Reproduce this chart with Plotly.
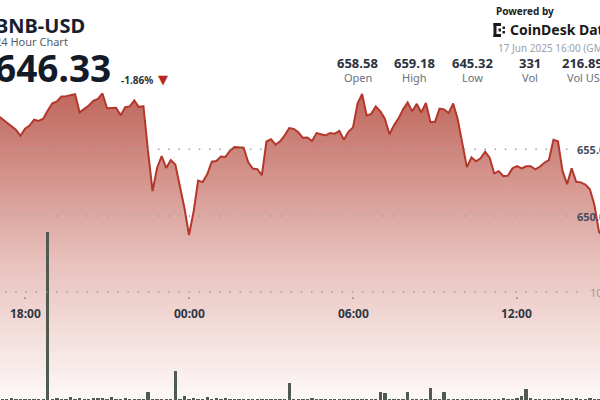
import pandas as pd
import plotly.graph_objects as go

# ---------------- data ----------------
start_time = "2025-06-16 16:50"
prices = [
    657.80,
    657.54, 657.28, 657.04, 656.73, 656.46, 656.01,
    656.54, 656.77, 657.22, 657.12, 657.29, 657.91,
    658.45, 658.58, 658.96, 658.98, 659.03, 659.12,
    657.76, 658.02, 658.28, 658.62, 658.77, 659.18,
    658.08, 658.10, 658.11, 657.54, 658.16, 658.21,
    658.66, 658.16, 658.23, 654.88, 651.87, 653.62,
    654.48, 653.60, 654.18, 653.86, 652.24, 650.60,
    648.58, 650.30, 652.65, 652.54, 653.13, 654.07,
    654.12, 654.46, 654.43, 654.89, 655.16, 655.15,
    655.11, 654.03, 653.56, 653.51, 653.06, 655.58,
    655.75, 655.34, 655.60, 656.04, 656.59, 656.53,
    656.27, 655.86, 655.88, 655.62, 656.21, 656.12,
    656.04, 656.22, 656.17, 656.37, 655.71, 656.31,
    656.64, 658.43, 659.14, 657.54, 657.65, 658.21,
    657.84, 657.29, 656.12, 656.79, 657.31, 657.99,
    658.51, 657.84, 658.40, 657.76, 658.47, 657.04,
    657.05, 658.04, 657.99, 657.72, 658.43, 657.24,
    655.30, 653.66, 654.40, 654.10, 654.33, 654.81,
    654.37, 653.19, 653.36, 652.99, 653.02, 653.57,
    653.73, 653.56, 653.72, 653.73, 653.49, 653.69,
    653.99, 654.18, 655.71, 655.60, 653.36, 652.39,
    653.58, 652.56, 652.52, 652.35, 652.01, 650.82,
    648.81, 648.43, 647.90,
]
volumes = [
    0.6,
    0.5, 0.8, 0.4, 1.5, 0.5, 0.6,
    0.7, 0.8, 0.6, 0.5, 0.4, 155.6,
    0.5, 1.0, 0.4, 0.6, 2.5, 0.5,
    1.5, 0.6, 0.5, 1.5, 1.2, 1.5,
    0.8, 3.0, 0.9, 0.5, 1.0, 0.4,
    0.5, 0.4, 0.8, 7.0, 0.6, 0.5,
    0.8, 0.4, 0.3, 27.0, 0.4, 3.3,
    0.6, 1.0, 0.4, 0.5, 3.0, 0.8,
    1.5, 0.7, 1.0, 0.4, 0.3, 0.4,
    0.3, 0.4, 0.3, 0.5, 0.4, 0.3,
    0.4, 0.3, 0.5, 0.4, 15.5, 0.6,
    0.4, 0.3, 0.4, 1.5, 0.4, 0.3,
    0.3, 0.4, 0.3, 0.4, 0.6, 0.3,
    0.4, 0.3, 0.5, 0.3, 0.4, 0.5,
    7.7, 6.2, 0.5, 0.4, 0.8, 0.5,
    7.7, 0.4, 0.5, 0.4, 0.6, 11.2,
    0.5, 0.4, 7.2, 0.5, 0.8, 0.4,
    0.5, 0.6, 0.4, 0.3, 0.5, 0.4,
    0.3, 0.5, 0.4, 2.1, 0.3, 0.4,
    1.5, 3.8, 9.9, 1.5, 0.4, 0.3,
    0.4, 0.3, 0.5, 0.4, 2.2, 0.4,
    0.5, 1.0, 0.8, 0.5, 1.0, 0.6,
    0.7, 0.5, 0.8,
]
times = pd.date_range(start_time, periods=len(prices), freq="10min")

tick_times = ["2025-06-16 18:00", "2025-06-17 00:00", "2025-06-17 06:00", "2025-06-17 12:00"]
tick_labels = ["18:00", "00:00", "06:00", "12:00"]
price_ticks = [655, 650]
price_tick_labels = ["655.00", "650.00"]
vol_ticks = [100]
vol_tick_labels = ["100"]

stat_values = ["658.58", "659.18", "645.32", "331", "216.89K"]
stat_labels = ["Open", "High", "Low", "Vol", "Vol USD"]

x_range = ["2025-06-16 17:05:07", "2025-06-17 15:02:13"]
y_range = [636.22, 666.18]
v_range = [0, 370.4]

W, H = 600, 400
FONT = "Noto Sans"


def px(x):
    return x / W


def py(y):
    return 1 - y / H


fig = go.Figure()

fig.add_trace(go.Scatter(
    x=times, y=prices, mode="lines",
    line=dict(color="#b4372b", width=2),
    fill="tozeroy",
    fillgradient=dict(type="vertical",
                      colorscale=[[0, "#fdf9f8"], [0.45, "#e8c1bc"], [1, "#c0675d"]],
                      start=636.22, stop=659.2),
    yaxis="y", hoverinfo="skip", showlegend=False,
))

fig.add_trace(go.Bar(
    x=times, y=volumes, yaxis="y2",
    marker=dict(color="#4f5a50", line=dict(width=0)),
    width=430000, showlegend=False, hoverinfo="skip",
))

shapes = []
annotations = []

# price gridlines + labels
for v, lab in zip(price_ticks, price_tick_labels):
    shapes.append(dict(type="line", xref="paper", yref="y", x0=px(5), x1=px(570), y0=v, y1=v,
                       line=dict(color="#a0a0a0", width=1.5, dash="1.5px,8.7px"), layer="above"))
    annotations.append(dict(text=lab, xref="paper", yref="y", x=px(575), y=v, xanchor="left",
                            yanchor="middle", showarrow=False,
                            font=dict(family=FONT, size=11, color="#464e5c", weight="bold")))
# volume gridline + label
for v, lab in zip(vol_ticks, vol_tick_labels):
    shapes.append(dict(type="line", xref="paper", yref="y2", x0=px(5), x1=px(586), y0=v, y1=v,
                       line=dict(color="#a0a0a0", width=1.5, dash="1.5px,8.7px"), layer="above"))
    annotations.append(dict(text=lab, xref="paper", yref="y2", x=px(588), y=v, xanchor="left",
                            yanchor="middle", showarrow=False,
                            font=dict(family=FONT, size=11, color="#999999")))

# time ticks
for t, lab in zip(tick_times, tick_labels):
    shapes.append(dict(type="line", xref="x", yref="paper", x0=t, x1=t, y0=py(297.5), y1=py(299),
                       line=dict(color="#666666", width=1.2)))
    annotations.append(dict(text=lab, xref="x", yref="paper", x=t, y=py(313.5), xanchor="center",
                            yanchor="middle", showarrow=False,
                            font=dict(family=FONT, size=12, color="#2f3744", weight="bold")))

# header left
annotations += [
    dict(text="BNB-USD", xref="paper", yref="paper", x=px(-7), y=py(26), xanchor="left",
         yanchor="middle", showarrow=False,
         font=dict(family=FONT, size=20, color="#18202e", weight="bold")),
    dict(text="24 Hour Chart", xref="paper", yref="paper", x=px(-7), y=py(41.5), xanchor="left",
         yanchor="middle", showarrow=False, font=dict(family=FONT, size=11, color="#555d69")),
    dict(text="646.33", xref="paper", yref="paper", x=px(-7), y=py(67), xanchor="left",
         yanchor="middle", showarrow=False,
         font=dict(family=FONT, size=37, color="#141b28", weight="bold")),
    dict(text="-1.86%", xref="paper", yref="paper", x=px(119), y=py(79.5), xanchor="left",
         yanchor="middle", showarrow=False,
         font=dict(family=FONT, size=10, color="#2a3240", weight="bold")),
    dict(text="▼", xref="paper", yref="paper", x=px(162.5), y=py(79), xanchor="center",
         yanchor="middle", showarrow=False, font=dict(family="DejaVu Sans", size=13, color="#b8281c")),
]

# header right
annotations += [
    dict(text="Powered by", xref="paper", yref="paper", x=px(494), y=py(11), xanchor="left",
         yanchor="middle", showarrow=False,
         font=dict(family=FONT, size=10, color="#222222", weight="bold")),
    dict(text="CoinDesk Data", xref="paper", yref="paper", x=px(508), y=py(30), xanchor="left",
         yanchor="middle", showarrow=False,
         font=dict(family=FONT, size=14, color="#1a1a1a", weight="bold")),
    dict(text="17 Jun 2025 16:00 (GMT)", xref="paper", yref="paper", x=px(496), y=py(47.5),
         xanchor="left", yanchor="middle", showarrow=False,
         font=dict(family=FONT, size=10, color="#9ba1a9")),
]
stat_centers = [357.5, 414.7, 472.8, 529.8, 587.0]
for c, val, lab in zip(stat_centers, stat_values, stat_labels):
    annotations.append(dict(text=val, xref="paper", yref="paper", x=px(c), y=py(63), xanchor="center",
                            yanchor="middle", showarrow=False,
                            font=dict(family=FONT, size=13, color="#2a3240", weight="bold")))
    annotations.append(dict(text=lab, xref="paper", yref="paper", x=px(c), y=py(77.5), xanchor="center",
                            yanchor="middle", showarrow=False,
                            font=dict(family=FONT, size=11, color="#6a717c")))

# logo icon (pixel bracket)
logo_rects = [(493.5, 23, 496.5, 37), (493.5, 23, 501, 26), (493.5, 34, 501, 37),
              (502.5, 26.5, 505, 29), (502.5, 31, 505, 33.5), (498.5, 28.5, 501, 31.5)]
for x0, y0, x1, y1 in logo_rects:
    shapes.append(dict(type="rect", xref="paper", yref="paper", x0=px(x0), x1=px(x1), y0=py(y1), y1=py(y0),
                       fillcolor="#1a1a1a", line=dict(width=0)))

fig.update_layout(
    width=W, height=H,
    margin=dict(l=0, r=0, t=0, b=0),
    paper_bgcolor="white", plot_bgcolor="white",
    xaxis=dict(type="date", range=x_range, visible=False, showgrid=False, fixedrange=True),
    yaxis=dict(range=y_range, visible=False, showgrid=False, fixedrange=True),
    yaxis2=dict(range=v_range, visible=False, showgrid=False, overlaying="y", fixedrange=True),
    bargap=0,
    shapes=shapes, annotations=annotations,
    showlegend=False,
)

fig.write_html("out.html", config={"displayModeBar": False},
               post_script="document.body.style.margin='0';document.body.style.overflow='hidden';")
